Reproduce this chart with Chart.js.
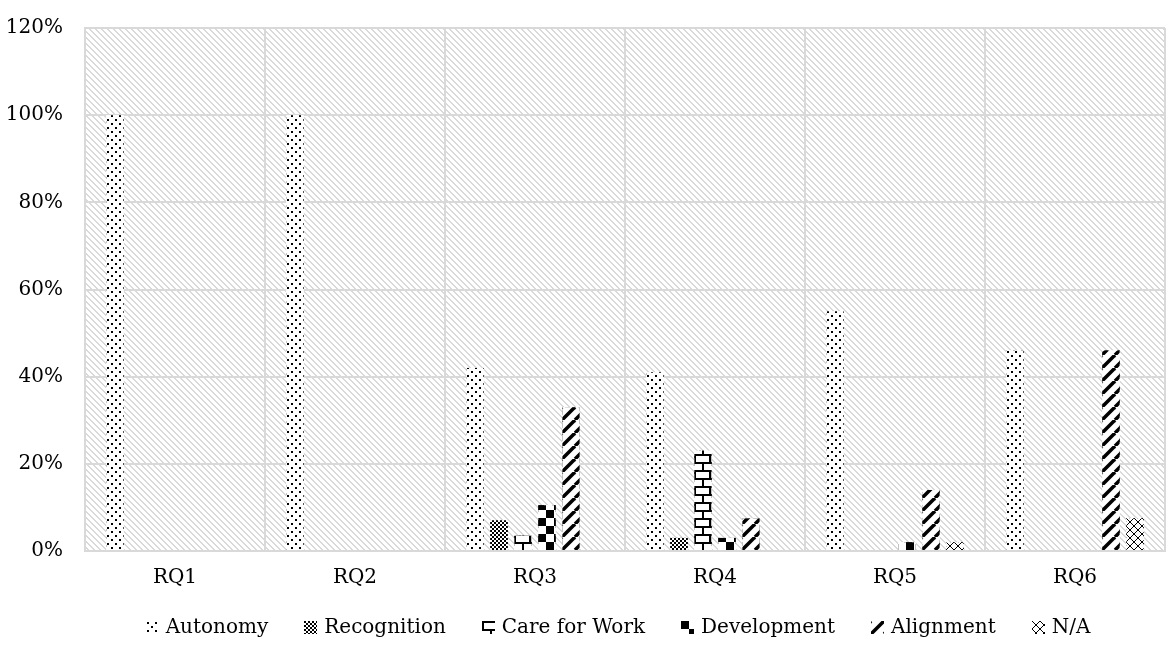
<!DOCTYPE html>
<html>
<head>
<meta charset="utf-8">
<script src="https://cdn.jsdelivr.net/npm/chart.js@4.4.1/dist/chart.umd.min.js"></script>
<style>
  html, body { margin: 0; padding: 0; background: #ffffff; }
  #wrap { position: relative; width: 1168px; height: 646px; }
</style>
</head>
<body>
<div id="wrap"><canvas id="c" width="1168" height="646"></canvas></div>
<script>
// ---- data (percent) ----
const categories = ['RQ1', 'RQ2', 'RQ3', 'RQ4', 'RQ5', 'RQ6'];
const seriesNames = ['Autonomy', 'Recognition', 'Care for Work', 'Development', 'Alignment', 'N/A'];
const autonomy    = [100, 100, 42, 41, 55, 46];
const recognition = [0, 0, 7, 3, 0, 0];
const careForWork = [0, 0, 3.5, 23, 0, 0];
const development = [0, 0, 10.5, 3, 2, 0];
const alignment   = [0, 0, 33, 7.5, 14, 46];
const notApplicable = [0, 0, 0, 0, 2, 7.5];
const yTicks = [0, 20, 40, 60, 80, 100, 120];

// ---- pattern tiles ----
function tile(w, h, draw) {
  const c = document.createElement('canvas');
  c.width = w; c.height = h;
  const g = c.getContext('2d');
  g.fillStyle = '#ffffff';
  g.fillRect(0, 0, w, h);
  g.fillStyle = '#000000';
  g.strokeStyle = '#000000';
  draw(g, w, h);
  return c;
}
const tiles = [
  tile(8, 8, g => { g.fillRect(1, 1, 2, 2); g.fillRect(5, 5, 2, 2); }),             // dots
  tile(4, 4, g => { g.fillRect(0, 0, 2, 2); g.fillRect(2, 2, 2, 2); }),             // fine checker
  tile(18, 16, g => {                                                               // brick
    g.fillRect(0, 0, 18, 2); g.fillRect(0, 8, 18, 2);
    g.fillRect(0, 0, 2, 8); g.fillRect(15, 0, 2, 8);
    g.fillRect(8, 8, 2, 8);
  }),
  tile(16, 16, g => { g.fillRect(0, 0, 8, 8); g.fillRect(8, 8, 8, 8); }),           // big checker
  tile(13, 13, g => {                                                               // wide diagonal
    g.lineWidth = 3.5;
    for (const k of [-13, 0, 13]) { g.beginPath(); g.moveTo(k, 13); g.lineTo(k + 13, 0); g.stroke(); }
  }),
  tile(8, 8, g => {                                                                 // diagonal cross
    g.lineWidth = 1;
    g.beginPath(); g.moveTo(0, 0); g.lineTo(8, 8); g.moveTo(8, 0); g.lineTo(0, 8); g.stroke();
  })
];
const bgTile = (() => {
  const c = document.createElement('canvas');
  c.width = 6; c.height = 6;
  const g = c.getContext('2d');
  g.fillStyle = '#ffffff'; g.fillRect(0, 0, 6, 6);
  g.fillStyle = '#d9d9d9';
  for (let i = 0; i < 6; i++) {
    g.fillRect(i, i, 2, 1);
    if (i === 5) g.fillRect(0, 5, 1, 1);
  }
  return c;
})();

const ctx = document.getElementById('c').getContext('2d');
const patterns = tiles.map(t => ctx.createPattern(t, 'repeat'));
const bgPattern = ctx.createPattern(bgTile, 'repeat');

const seriesData = [autonomy, recognition, careForWork, development, alignment, notApplicable];

const FONT_FAMILY = '"DejaVu Serif", serif';
const FONT = { family: FONT_FAMILY, size: 20 };

const plotBg = {
  id: 'plotBg',
  beforeDraw(chart) {
    const a = chart.chartArea, c = chart.ctx;
    c.save();
    c.fillStyle = bgPattern;
    c.fillRect(a.left, a.top, a.right - a.left, a.bottom - a.top);
    c.restore();
  }
};

// re-fill each bar with its pattern anchored at the bar's own corner
const alignedFill = {
  id: 'alignedFill',
  afterDatasetDraw(chart, args) {
    const meta = args.meta;
    const c = chart.ctx;
    const tileCanvas = tiles[args.index];
    meta.data.forEach(el => {
      const p = el.getProps(['x', 'y', 'base', 'width'], true);
      const h = p.base - p.y;
      if (h < 0.5) return;
      const left = p.x - p.width / 2;
      const pat = c.createPattern(tileCanvas, 'repeat');
      pat.setTransform(new DOMMatrix([1, 0, 0, 1, Math.round(left), Math.round(p.base)]));
      c.save();
      c.fillStyle = pat;
      c.fillRect(left, p.y, p.width, h);
      c.restore();
    });
  }
};

// legend drawn under the plot, one row, centred
const patternLegend = {
  id: 'patternLegend',
  afterDraw(chart, args, opts) {
    const c = chart.ctx;
    const box = 13, gapText = 7, gapItem = 36;
    c.save();
    c.font = `${FONT.size}px ${FONT_FAMILY}`;
    c.textBaseline = 'middle';
    c.textAlign = 'left';
    c.fillStyle = '#000000';
    const items = chart.data.datasets.map((ds, i) => ({ text: ds.label, tile: tiles[i], w: c.measureText(ds.label).width }));
    const total = items.reduce((s, it) => s + box + gapText + it.w, 0) + gapItem * (items.length - 1);
    let x = opts.centerX - total / 2;
    const yc = opts.centerY;
    items.forEach(it => {
      const bx = Math.round(x), by = Math.round(yc - box / 2);
      const pat = c.createPattern(it.tile, 'repeat');
      pat.setTransform(new DOMMatrix([1, 0, 0, 1, bx, by]));
      c.fillStyle = pat;
      c.fillRect(bx, by, box, box);
      c.fillStyle = '#000000';
      c.fillText(it.text, x + box + gapText, yc + 1);
      x += box + gapText + it.w + gapItem;
    });
    c.restore();
  }
};

new Chart(ctx, {
  type: 'bar',
  data: {
    labels: categories,
    datasets: seriesNames.map((name, i) => ({
      label: name,
      data: seriesData[i],
      backgroundColor: patterns[i],
      borderWidth: 0,
      categoryPercentage: 0.8,
      barPercentage: 0.72
    }))
  },
  options: {
    responsive: false,
    animation: false,
    devicePixelRatio: 1,
    layout: { padding: { left: 0, right: 3, top: 28, bottom: 41 } },
    plugins: {
      tooltip: { enabled: false },
      legend: { display: false },
      patternLegend: { centerX: 618, centerY: 627 }
    },
    scales: {
      x: {
        grid: { color: '#d9d9d9', lineWidth: 2, drawTicks: false, offset: true },
        border: { color: '#d9d9d9', width: 2 },
        ticks: { color: '#000000', font: FONT, padding: 15 }
      },
      y: {
        min: 0, max: 120,
        afterBuildTicks: s => { s.ticks = yTicks.map(v => ({ value: v })); },
        afterFit: s => { s.width = 85; s.paddingTop = 0; s.paddingBottom = 0; },
        grid: { color: '#d9d9d9', lineWidth: 2, drawTicks: false },
        border: { color: '#d9d9d9', width: 2 },
        ticks: { color: '#000000', font: FONT, padding: 22, callback: v => v + '%' }
      }
    }
  },
  plugins: [plotBg, alignedFill, patternLegend]
});
</script>
</body>
</html>
